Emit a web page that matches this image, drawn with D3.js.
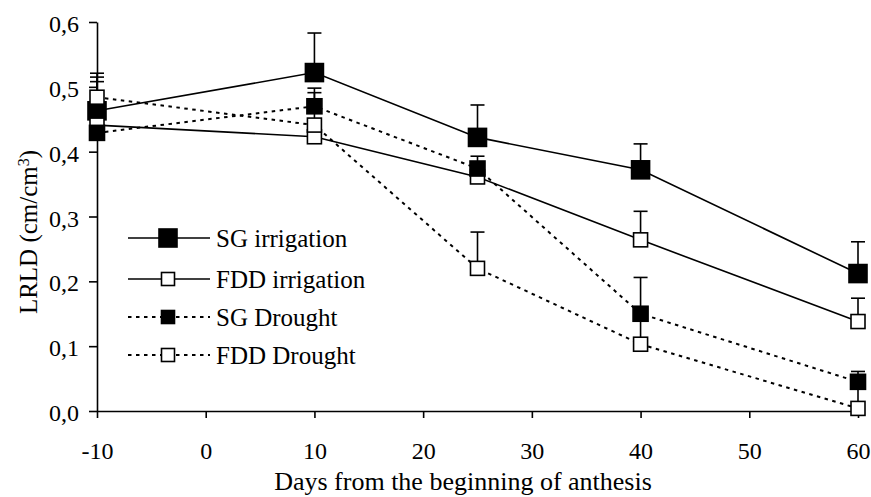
<!DOCTYPE html>
<html>
<head>
<meta charset="utf-8">
<script src="https://cdn.jsdelivr.net/npm/d3@7"></script>
<style>
  body { margin: 0; background: #fff; }
  svg { display: block; font-family: "Liberation Serif", "Times New Roman", serif; }
</style>
</head>
<body>
<div id="chart"></div>
<script>
// days from the beginning of anthesis
var days = [-10, 10, 25, 40, 60];

// LRLD values (cm/cm3) and upper error bar lengths
var sgIrrigation = [0.463, 0.522, 0.422, 0.372, 0.212];
var sgIrrigationErr = [0.052, 0.061, 0.050, 0.040, 0.049];

var fddIrrigation = [0.441, 0.423, 0.361, 0.264, 0.138];
var fddIrrigationErr = [0.067, 0.012, 0.015, 0.044, 0.036];

var sgDrought = [0.429, 0.470, 0.374, 0.150, 0.045];
var sgDroughtErr = [0.025, 0.021, 0.019, 0.056, 0.016];

var fddDrought = [0.484, 0.441, 0.220, 0.103, 0.004];
var fddDroughtErr = [0.037, 0.057, 0.056, 0.040, 0.040];

var seriesNames = ['SG irrigation', 'FDD irrigation', 'SG Drought', 'FDD Drought'];
var yTicks = [0, 0.1, 0.2, 0.3, 0.4, 0.5, 0.6];
var xTicks = [-10, 0, 10, 20, 30, 40, 50, 60];

var W = 871, H = 497;

var series = [
    { name: seriesNames[0], values: sgIrrigation, err: sgIrrigationErr, filled: true, dashed: false, size: 18 },
    { name: seriesNames[1], values: fddIrrigation, err: fddIrrigationErr, filled: false, dashed: false, size: 14 },
    { name: seriesNames[2], values: sgDrought, err: sgDroughtErr, filled: true, dashed: true, size: 15 },
    { name: seriesNames[3], values: fddDrought, err: fddDroughtErr, filled: false, dashed: true, size: 14 }
];

var x = d3.scaleLinear().domain([-10, 60]).range([97, 858]);
var y = d3.scaleLinear().domain([0, 0.6]).range([411, 22]);

var svg = d3.select('#chart').append('svg')
            .attr('width', W).attr('height', H);

// axes
var yAxis = d3.axisLeft(y).tickValues(yTicks).tickSize(8).tickSizeOuter(0).tickPadding(10)
              .tickFormat(function(d) { return d3.format('.1f')(d).replace('.', ','); });
var xAxis = d3.axisBottom(x).tickValues(xTicks).tickSize(7).tickSizeOuter(0).tickPadding(24)
              .tickFormat(function(d) { return d; });

var gy = svg.append('g').attr('transform', 'translate(' + x(-10) + ',0)').call(yAxis);
var gx = svg.append('g').attr('transform', 'translate(0,' + y(0) + ')').call(xAxis);

[gx, gy].forEach(function(g) {
    g.selectAll('path, line').attr('stroke', '#000').attr('stroke-width', 1.6);
    g.selectAll('text').attr('fill', '#000').style('font-family', '"Liberation Serif", serif')
     .style('font-size', '24px');
});
gy.selectAll('text').attr('dy', '0.4em');

// axis titles
svg.append('text')
   .attr('x', 463).attr('y', 490)
   .attr('text-anchor', 'middle')
   .style('font-size', '26px')
   .text('Days from the beginning of anthesis');

var yl = svg.append('text')
   .attr('transform', 'translate(37,232) rotate(-90)')
   .attr('text-anchor', 'middle')
   .style('font-size', '25px');
yl.append('tspan').text('LRLD (cm/cm');
yl.append('tspan').attr('baseline-shift', 'super').style('font-size', '16px').text('3');
yl.append('tspan').text(')');

var plot = svg.append('g');

// error bars (upper only)
series.forEach(function(s) {
    var g = plot.append('g');
    s.values.forEach(function(v, i) {
        var cx = x(days[i]);
        g.append('line')
         .attr('x1', cx).attr('x2', cx)
         .attr('y1', y(v)).attr('y2', y(v + s.err[i]))
         .attr('stroke', '#000').attr('stroke-width', 1.6);
        g.append('line')
         .attr('x1', cx - 7).attr('x2', cx + 7)
         .attr('y1', y(v + s.err[i])).attr('y2', y(v + s.err[i]))
         .attr('stroke', '#000').attr('stroke-width', 1.6);
    });
});

var line = d3.line()
    .x(function(d, i) { return x(days[i]); })
    .y(function(d) { return y(d); });

series.forEach(function(s) {
    plot.append('path')
        .attr('d', line(s.values))
        .attr('fill', 'none')
        .attr('stroke', '#000')
        .attr('stroke-width', s.dashed ? 2 : 1.6)
        .attr('stroke-dasharray', s.dashed ? '3.5,4.5' : null);
});

function marker(g, cx, cy, s) {
    var h = s.size / 2;
    g.append('rect')
     .attr('x', cx - h).attr('y', cy - h)
     .attr('width', s.size).attr('height', s.size)
     .attr('fill', s.filled ? '#000' : '#fff')
     .attr('stroke', '#000').attr('stroke-width', 1.6);
}

series.forEach(function(s) {
    var g = plot.append('g');
    s.values.forEach(function(v, i) { marker(g, x(days[i]), y(v), s); });
});

// legend
var legendY = [238, 279, 317, 355];
var legend = svg.append('g');
series.forEach(function(s, i) {
    var ly = legendY[i];
    legend.append('line')
          .attr('x1', 128).attr('x2', 210).attr('y1', ly).attr('y2', ly)
          .attr('stroke', '#000')
          .attr('stroke-width', s.dashed ? 2 : 1.6)
          .attr('stroke-dasharray', s.dashed ? '3.5,4.5' : null);
    marker(legend, 168, ly, { size: i === 0 ? 18 : 13, filled: s.filled });
    legend.append('text')
          .attr('x', 216).attr('y', ly).attr('dy', '0.35em')
          .style('font-size', '25px')
          .text(s.name);
});
</script>
</body>
</html>
